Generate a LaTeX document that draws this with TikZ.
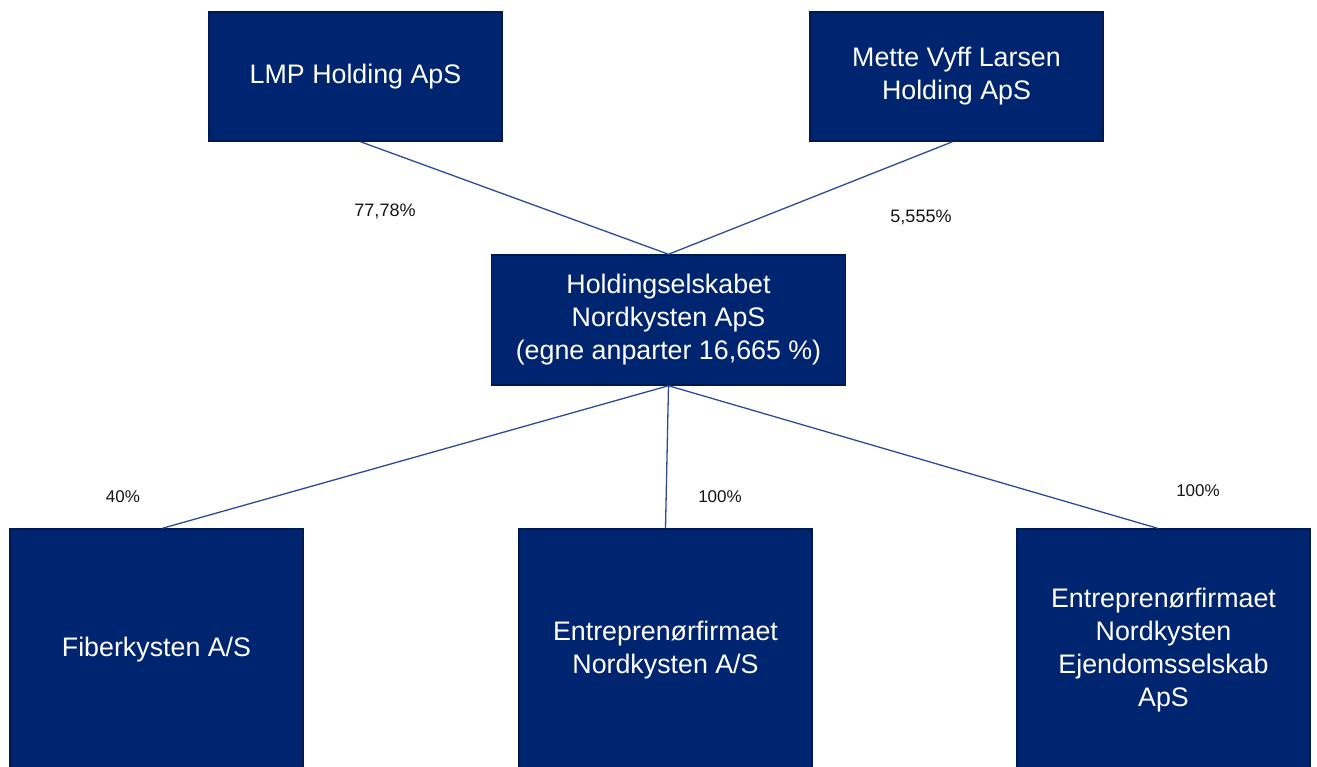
\documentclass[tikz,border=0pt]{standalone}
\usepackage{fontspec}
\setmainfont{Liberation Sans}
\definecolor{boxfill}{RGB}{0,37,112}
\definecolor{boxedge}{RGB}{0,26,80}
\definecolor{linkcol}{RGB}{45,75,150}
\definecolor{labcol}{RGB}{20,20,20}
\begin{document}
\begin{tikzpicture}[x=1pt,y=-1pt,
  orgbox/.style={draw=boxedge,line width=1.5pt,fill=boxfill,text=white,
    align=center,inner sep=0pt,minimum width=293pt,
    font=\fontsize{26.8}{33}\selectfont},
  link/.style={draw=linkcol,line width=1.3pt},
  pct/.style={text=labcol,font=\fontsize{18}{20}\selectfont,inner sep=0pt},
  pcts/.style={text=labcol,font=\fontsize{17}{20}\selectfont,inner sep=0pt}]
\useasboundingbox (0,0) rectangle (1317,767);
\clip (0,0) rectangle (1317,767);
\node[orgbox,minimum height=129pt] (lmp) at (355.5,76.5) {LMP Holding ApS};
\node[orgbox,minimum height=129pt] (mette) at (956.5,76.5) {Mette Vyff Larsen\\Holding ApS};
\node[orgbox,minimum height=130pt,minimum width=354pt] (hold) at (668.5,320) {Holdingselskabet\\Nordkysten ApS\\(egne anparter 16,665 \%)};
\node[orgbox,minimum height=242pt] (fiber) at (156.5,650) {Fiberkysten A/S};
\node[orgbox,minimum height=242pt] (entre) at (665.5,650) {Entreprenørfirmaet\\Nordkysten A/S};
\node[orgbox,minimum height=242pt] (ejd) at (1163.5,650) {Entreprenørfirmaet\\Nordkysten\\Ejendomsselskab\\ApS};
\draw[link] ([xshift=5pt]lmp.south) -- (hold.north);
\draw[link] ([xshift=-4pt]mette.south) -- (hold.north);
\draw[link] (hold.south) -- ([xshift=6pt]fiber.north);
\draw[link] (hold.south) -- (entre.north);
\draw[link] (hold.south) -- ([xshift=-6pt]ejd.north);
\node[pct] (l1) at (385,211) {77,78\%};
\node[pct] (l2) at (921,217) {5,555\%};
\node[pcts] (l3) at (123,497) {40\%};
\node[pcts] (l4) at (720,497) {100\%};
\node[pcts] (l5) at (1198,491) {100\%};
\end{tikzpicture}
\end{document}
